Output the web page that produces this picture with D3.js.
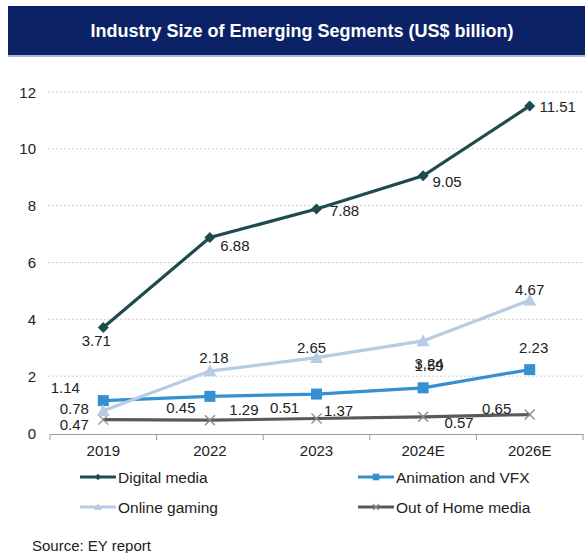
<!DOCTYPE html>
<html>
<head>
<meta charset="utf-8">
<script src="https://cdn.jsdelivr.net/npm/d3@7"></script>
<style>
  html, body { margin: 0; padding: 0; background: #fff; }
  svg { display: block; font-family: Arial, "Liberation Sans", sans-serif; }
</style>
</head>
<body>
<svg id="chart" width="585" height="553"></svg>
<script>
// Industry size of emerging segments, US$ billion (EY report)
const years = ["2019", "2022", "2023", "2024E", "2026E"];
const yTicks = [0, 2, 4, 6, 8, 10, 12];

const digitalMedia = [3.71, 6.88, 7.88, 9.05, 11.51];
const animationVfx = [1.14, 1.29, 1.37, 1.59, 2.23];
const onlineGaming = [0.78, 2.18, 2.65, 3.24, 4.67];
const outOfHome    = [0.47, 0.45, 0.51, 0.57, 0.65];

// label offsets (dx, dy) from each point, as placed in the original
const series = [
  { name: "Out of Home media", values: outOfHome, color: "#595959", marker: "x",
    offs: [[-29, 5], [-29, -13], [-32, -11], [36, 6], [-33, -6]] },
  { name: "Animation and VFX", values: animationVfx, color: "#3590d2", marker: "square",
    offs: [[-38, -13], [34, 13], [22, 16], [6, -22], [4, -22]] },
  { name: "Online gaming", values: onlineGaming, color: "#b8cbe4", marker: "triangle",
    offs: [[-29, -2], [4, -14], [-5, -10], [6, 23], [0, -11]] },
  { name: "Digital media", values: digitalMedia, color: "#1f4a4e", marker: "diamond",
    offs: [[-7, 13], [25, 8], [28, 1], [24, 6], [28, 1]] },
];
const legendOrder = ["Digital media", "Animation and VFX", "Online gaming", "Out of Home media"];

const svg = d3.select("#chart");
const FS = 15;

// title banner
svg.append("rect").attr("x", 8).attr("y", 6).attr("width", 577).attr("height", 49).attr("fill", "#0c2266");
svg.append("rect").attr("x", 8).attr("y", 55).attr("width", 577).attr("height", 2).attr("fill", "#a9b9d6");
svg.append("text")
  .attr("x", 302).attr("y", 31)
  .attr("text-anchor", "middle").attr("dominant-baseline", "central")
  .attr("fill", "#fff").attr("font-weight", "bold").attr("font-size", 18)
  .text("Industry Size of Emerging Segments (US$ billion)");

const x = d3.scaleBand().domain(years).range([50, 583]);
const y = d3.scaleLinear().domain([0, 12]).range([433, 92]);
const cx = d => x(d) + x.bandwidth() / 2;

// gridlines
svg.append("g").selectAll("line").data(yTicks.filter(t => t > 0)).join("line")
  .attr("x1", 48).attr("x2", 583)
  .attr("y1", d => y(d)).attr("y2", d => y(d))
  .attr("stroke", "#cfcfcf").attr("stroke-width", 1).attr("stroke-dasharray", "2,2");

// y labels
svg.append("g").selectAll("text").data(yTicks).join("text")
  .attr("x", 36).attr("y", d => y(d))
  .attr("text-anchor", "end").attr("dominant-baseline", "central")
  .attr("font-size", FS).attr("fill", "#222")
  .text(d => d);

// x axis
const xAxis = svg.append("g").attr("transform", "translate(0,434)")
  .call(d3.axisBottom(x).tickSize(0).tickPadding(11));
xAxis.select(".domain").attr("stroke", "#9a9a9a");
xAxis.selectAll("text").attr("font-size", FS).attr("fill", "#222")
  .attr("font-family", "Arial, 'Liberation Sans', sans-serif");
const bounds = years.map(d => x(d)).concat([x.range()[1]]);
svg.append("g").selectAll("line").data(bounds).join("line")
  .attr("x1", d => d).attr("x2", d => d).attr("y1", 434).attr("y2", 440)
  .attr("stroke", "#9a9a9a");

function drawMarker(g, type, color, px, py, scale) {
  const s = scale || 1;
  if (type === "diamond") {
    const r = 5.5 * s;
    g.append("path").attr("d", `M${px},${py - r}L${px + r},${py}L${px},${py + r}L${px - r},${py}Z`).attr("fill", color);
  } else if (type === "square") {
    const r = 5.5 * s;
    g.append("rect").attr("x", px - r).attr("y", py - r).attr("width", 2 * r).attr("height", 2 * r).attr("fill", color);
  } else if (type === "triangle") {
    const r = 6.5 * s;
    g.append("path").attr("d", `M${px},${py - r}L${px + r},${py + r * 0.8}L${px - r},${py + r * 0.8}Z`).attr("fill", color);
  } else if (type === "x") {
    const r = 5 * s;
    g.append("path").attr("d", `M${px - r},${py - r}L${px + r},${py + r}M${px - r},${py + r}L${px + r},${py - r}`)
      .attr("stroke", color).attr("stroke-width", 1.3).attr("fill", "none");
  }
}

const line = d3.line().x((d, i) => cx(years[i])).y(d => y(d));

for (const s of series) {
  const g = svg.append("g");
  g.append("path").datum(s.values).attr("d", line)
    .attr("fill", "none").attr("stroke", s.color).attr("stroke-width", 3.2);
  s.values.forEach((v, i) => drawMarker(g, s.marker, s.marker === "x" ? "#8a8a8a" : s.color, cx(years[i]), y(v)));
}

// data labels
for (const s of series) {
  svg.append("g").selectAll("text").data(s.values).join("text")
    .attr("x", (d, i) => cx(years[i]) + s.offs[i][0])
    .attr("y", (d, i) => y(d) + s.offs[i][1])
    .attr("text-anchor", "middle").attr("dominant-baseline", "central")
    .attr("font-size", FS).attr("fill", "#222")
    .text(d => d.toFixed(2));
}

// legend
const legPos = [[80, 477], [358, 477], [80, 507], [358, 507]];
legendOrder.forEach((name, i) => {
  const s = series.find(d => d.name === name);
  const [lx, ly] = legPos[i];
  const g = svg.append("g");
  g.append("line").attr("x1", lx).attr("x2", lx + 36).attr("y1", ly).attr("y2", ly)
    .attr("stroke", s.color).attr("stroke-width", 3.2);
  drawMarker(g, s.marker, s.marker === "x" ? "#8a8a8a" : s.color, lx + 18, ly, 0.6);
  g.append("text").attr("x", lx + 38).attr("y", ly)
    .attr("dominant-baseline", "central").attr("font-size", 15.5).attr("fill", "#222")
    .text(name);
});

svg.append("text").attr("x", 32).attr("y", 545)
  .attr("dominant-baseline", "central").attr("font-size", 15).attr("fill", "#222")
  .text("Source: EY report");
</script>
</body>
</html>
